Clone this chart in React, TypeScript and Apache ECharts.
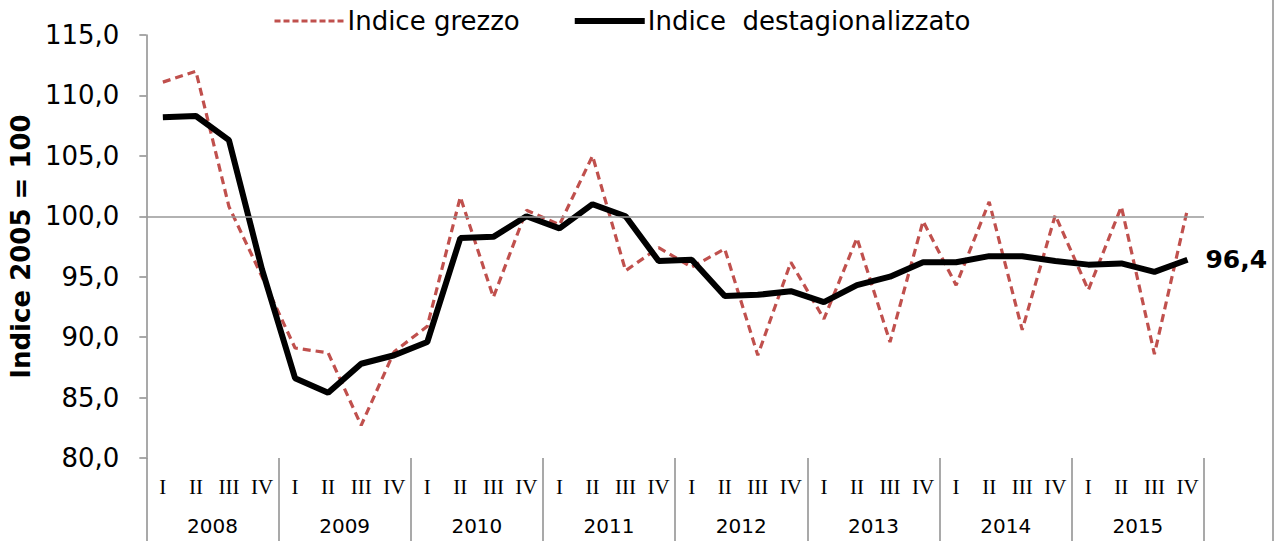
import React, { useEffect, useRef } from "react";
import * as echarts from "echarts";

const quarters = ["I", "II", "III", "IV"];
const years = ["2008", "2009", "2010", "2011", "2012", "2013", "2014", "2015"];
const grezzo = [
  111.1, 112.0, 100.8, 95.0, 89.1, 88.7, 82.7, 88.8,
  90.9, 101.6, 93.3, 100.5, 99.3, 105.0, 95.5, 97.4,
  95.8, 97.3, 88.5, 96.2, 91.5, 98.2, 89.6, 99.6,
  94.3, 101.2, 90.6, 100.1, 93.9, 100.8, 88.6, 100.6,
];
const destag = [
  108.2, 108.3, 106.3, 95.6, 86.6, 85.4, 87.8, 88.5,
  89.6, 98.2, 98.3, 100.0, 99.0, 101.0, 100.0, 96.3,
  96.4, 93.4, 93.5, 93.8, 92.9, 94.3, 95.0, 96.2,
  96.2, 96.7, 96.7, 96.3, 96.0, 96.1, 95.4, 96.4,
];
const yTicks = { min: 80, max: 115, interval: 5 };

const fmt = (v: number) => v.toFixed(1).replace(".", ",");

export default function App() {
  const ref = useRef<HTMLDivElement>(null);
  useEffect(() => {
    document.body.style.margin = "0";
    const chart = echarts.init(ref.current!, null, { renderer: "svg" });
    const qCats: string[] = [];
    years.forEach(() => quarters.forEach((q) => qCats.push(q)));
    chart.setOption({
      animation: false,
      backgroundColor: "#fff",
      grid: { left: 140, right: 75, top: 35, bottom: 83, containLabel: false },
      legend: {
        top: 3,
        left: 268,
        itemWidth: 70,
        itemHeight: 14,
        itemGap: 52,
        itemStyle: { opacity: 0 },
        textStyle: { fontFamily: "DejaVu Sans", fontSize: 26, color: "#000", padding: [0, 0, 0, -2] },
        data: [
          {
            name: "Indice grezzo",
            lineStyle: { color: "#C0504D", width: 3, type: [6, 3] },
          },
          {
            name: "Indice  destagionalizzato",
            lineStyle: { color: "#000", width: 6, type: "solid" },
          },
        ],
      },
      xAxis: [
        {
          type: "category",
          data: qCats,
          position: "bottom",
          axisLine: { show: false },
          axisTick: { show: false },
          axisLabel: {
            interval: 0,
            margin: 18,
            fontFamily: "Liberation Serif",
            fontSize: 21,
            color: "#000",
          },
        },
        {
          type: "category",
          data: years,
          position: "bottom",
          axisLine: { show: false },
          axisTick: { show: true, length: 83, lineStyle: { color: "#8c8c8c", width: 1.5 } },
          axisLabel: {
            interval: 0,
            margin: 58,
            fontFamily: "DejaVu Sans",
            fontSize: 20,
            color: "#000",
          },
        },
      ],
      yAxis: {
        type: "value",
        min: yTicks.min,
        max: yTicks.max,
        interval: yTicks.interval,
        name: "Indice 2005 = 100",
        nameLocation: "middle",
        nameGap: 102,
        nameRotate: 90,
        nameTextStyle: {
          fontFamily: "DejaVu Sans",
          fontWeight: "bold",
          fontSize: 26,
          color: "#000",
        },
        axisLine: { show: true, lineStyle: { color: "#8c8c8c", width: 1.5 } },
        axisTick: { show: true, inside: false, length: 7, lineStyle: { color: "#8c8c8c", width: 1.5 } },
        splitLine: { show: false },
        axisLabel: {
          margin: 27,
          formatter: (v: number) => fmt(v),
          fontFamily: "DejaVu Sans",
          fontSize: 26,
          color: "#000",
        },
      },
      series: [
        {
          name: "Indice grezzo",
          type: "line",
          data: grezzo,
          symbol: "none",
          lineStyle: { color: "#C0504D", width: 3.2, type: [8, 5] },
          itemStyle: { color: "#C0504D" },
          z: 2,
          markLine: {
            silent: true,
            symbol: "none",
            label: { show: false },
            lineStyle: { color: "#999", width: 1.5, type: "solid" },
            data: [{ yAxis: 100 }],
          },
        },
        {
          name: "Indice  destagionalizzato",
          type: "line",
          data: destag,
          symbol: "none",
          lineStyle: { color: "#000", width: 6 },
          itemStyle: { color: "#000" },
          z: 3,
          endLabel: {
            show: true,
            distance: 18,
            formatter: (p: any) => fmt(p.value),
            fontFamily: "DejaVu Sans",
            fontWeight: "bold",
            fontSize: 25,
            color: "#000",
          },
        },
      ],
      graphic: [
        {
          type: "line",
          shape: { x1: 1273, y1: 0, x2: 1273, y2: 541 },
          style: { stroke: "#8c8c8c", lineWidth: 1.5 },
        },
      ],
    });
    return () => chart.dispose();
  }, []);
  return <div ref={ref} style={{ width: 1279, height: 541 }} />;
}
